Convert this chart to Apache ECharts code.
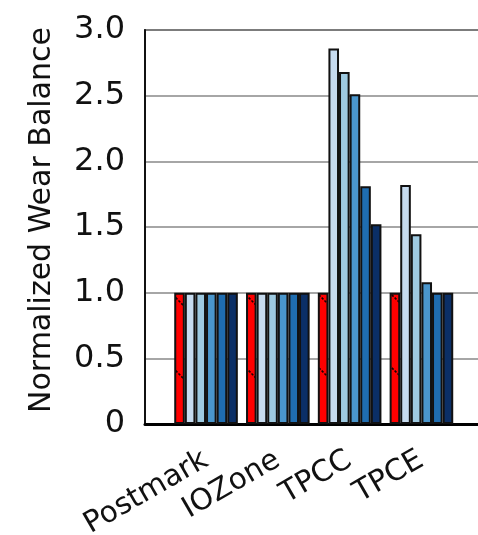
<!DOCTYPE html>
<html>
<head>
<meta charset="utf-8">
<script src="https://cdn.jsdelivr.net/npm/echarts@6/dist/echarts.min.js"></script>
<style>
  html, body { margin: 0; padding: 0; background: #fff; }
  #chart { width: 478px; height: 535px; }
</style>
</head>
<body>
<div id="chart"></div>
<script>
// Workloads along the x axis
const categories = ['Postmark', 'IOZone', 'TPCC', 'TPCE'];

// Normalized wear balance per configuration, one value per workload
const baseline = [1.0, 1.0, 1.0, 1.0];
const config1 = [1.0, 1.0, 2.86, 1.82];
const config2 = [1.0, 1.0, 2.68, 1.445];
const config3 = [1.0, 1.0, 2.51, 1.08];
const config4 = [1.0, 1.0, 1.81, 1.0];
const config5 = [1.0, 1.0, 1.52, 1.0];

const yTicks = [0, 0.5, 1.0, 1.5, 2.0, 2.5, 3.0];

const FONT = 'DejaVu Sans';

// Red fill with sparse dark diagonal hatch strokes
function hatchPattern() {
  const T = 73, c = 24;
  const cv = document.createElement('canvas');
  cv.width = T; cv.height = T;
  const ctx = cv.getContext('2d');
  ctx.fillStyle = '#ff0000';
  ctx.fillRect(0, 0, T, T);
  ctx.strokeStyle = '#1a0000';
  ctx.lineWidth = 1.6;
  ctx.setLineDash([2.5, 1.5]);
  ctx.beginPath();
  ctx.moveTo(c, 0); ctx.lineTo(T, T - c);
  ctx.moveTo(0, T - c); ctx.lineTo(c, T);
  ctx.stroke();
  return cv;
}

const seriesDefs = [
  { name: 'Baseline', values: baseline, color: { image: hatchPattern(), repeat: 'repeat' } },
  { name: 'Config 1', values: config1, color: '#c6dbef' },
  { name: 'Config 2', values: config2, color: '#9ecae1' },
  { name: 'Config 3', values: config3, color: '#4a96cc' },
  { name: 'Config 4', values: config4, color: '#1f6db0' },
  { name: 'Config 5', values: config5, color: '#0b2f66' }
];

const chart = echarts.init(document.getElementById('chart'), null, { renderer: 'canvas' });

chart.setOption({
  animation: false,
  backgroundColor: '#fff',
  grid: {
    left: 145, top: 30, bottom: 111, width: 360,
    outerBoundsMode: 'none',
    containLabel: false,
    show: true, borderColor: '#222', borderWidth: 1.5, backgroundColor: 'transparent'
  },
  xAxis: {
    type: 'value',
    min: -0.85,
    max: 4.164,
    axisLine: { show: true, onZero: false, lineStyle: { color: '#000', width: 3 } },
    axisTick: { show: false },
    splitLine: { show: false },
    axisLabel: {
      customValues: [0, 1, 2, 3],
      formatter: (v) => categories[Math.round(v)],
      rotate: 30,
      margin: 34,
      fontFamily: FONT,
      fontSize: 29.5,
      color: '#111'
    }
  },
  yAxis: {
    type: 'value',
    min: 0,
    max: 3,
    interval: 0.5,
    name: 'Normalized Wear Balance',
    nameLocation: 'middle',
    nameGap: 88,
    nameTextStyle: { fontFamily: FONT, fontSize: 30, color: '#111', padding: [0, 0, 0, 14] },
    axisLine: { show: true, onZero: false, lineStyle: { color: '#111', width: 2 } },
    axisTick: { show: false },
    splitLine: { show: true, lineStyle: { color: '#888', width: 1.5 } },
    axisLabel: {
      margin: 20,
      fontFamily: FONT,
      fontSize: 32,
      color: '#111',
      formatter: (v) => (v === 0 ? '0' : v.toFixed(1))
    }
  },
  series: seriesDefs.map((s) => ({
    name: s.name,
    type: 'bar',
    barWidth: 10.6,
    barGap: '0%',
    itemStyle: { color: s.color, borderColor: '#111', borderWidth: 2 },
    data: s.values.map((v, i) => [i, v])
  }))
});
</script>
</body>
</html>
